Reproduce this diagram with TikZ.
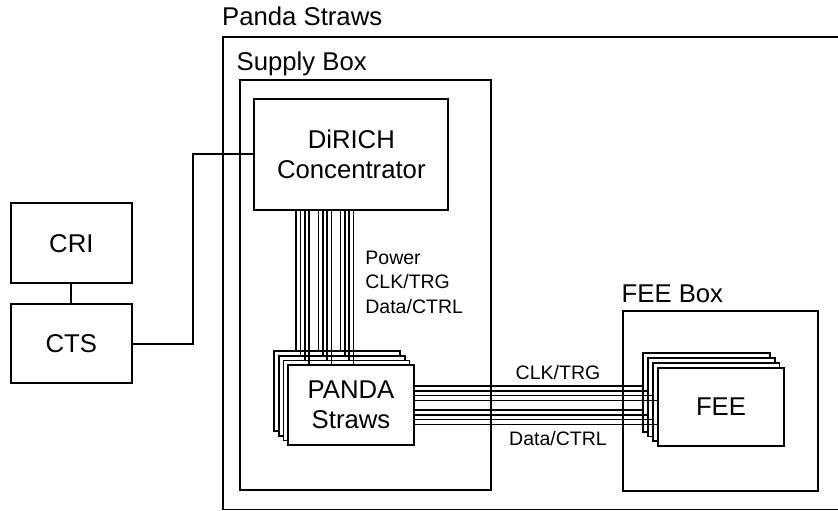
\documentclass[tikz,border=0pt]{standalone}
\usepackage{fontspec}
\setmainfont{Liberation Sans}
\newcommand\bigtxt{\fontsize{25.7}{30.5}\selectfont}
\newcommand\smalltxt{\fontsize{19.5}{23}\selectfont}
\begin{document}
\begin{tikzpicture}[x=1pt,y=-1pt,
  box/.style={draw, line width=1.8pt, fill=white, inner sep=0pt, align=center, font=\bigtxt},
  title/.style={anchor=base west, inner sep=0pt, font=\bigtxt},
  sig/.style={anchor=base west, inner sep=0pt, font=\smalltxt},
  wire/.style={line width=1.6pt},
  link/.style={line width=1.8pt}]
\useasboundingbox (0,0) rectangle (838,511);
% containers
\node[box, minimum width=627pt, minimum height=472.5pt] (outer) at (536.5,273.25) {};
\node[title] (outerlbl) at (222,26) {Panda Straws};
\node[box, minimum width=250.7pt, minimum height=410pt] (supply) at (365.35,285) {};
\node[title] (supplylbl) at (236.5,70.7) {Supply Box};
\node[box, minimum width=195pt, minimum height=180pt] (feebox) at (720.8,400.7) {};
\node[title] (feeboxlbl) at (621.5,302.3) {FEE Box};
% main boxes
\node[box, minimum width=194pt, minimum height=111.3pt] (dirich) at (351.3,154.35) {DiRICH\\Concentrator};
\node[box, minimum width=120.7pt, minimum height=80pt] (cri) at (71.35,243.3) {CRI};
\node[box, minimum width=120.7pt, minimum height=79.3pt] (cts) at (71.35,343.65) {CTS};
% stacked PANDA Straws boxes
\foreach \j in {0,1,2} {
  \node[box, minimum width=126pt, minimum height=80pt] (p\j) at ({337.2+4.6*\j},{391.2+4.6*\j}) {};
}
\node[box, minimum width=126pt, minimum height=80pt] (p3) at (351,405) {PANDA\\Straws};
% stacked FEE boxes
\foreach \j in {0,1,2} {
  \node[box, minimum width=126.6pt, minimum height=78.3pt] (f\j) at ({706.6+4.8*\j},{392.45+4.8*\j}) {};
}
\node[box, minimum width=126.6pt, minimum height=78.3pt] (f3) at ({706.6+4.8*3},{392.45+4.8*3}) {FEE};
% CRI - CTS - DiRICH
\draw[link] (cri.south) -- (cts.north);
\draw[link] (cts.east) -- ++(60.6,0) |- (dirich.west);
% vertical bundles DiRICH -> PANDA Straws
\foreach \g [count=\k] in {296,318.3,340.3} {
  \foreach \j in {0,1,2,3} {
    \coordinate (v\k\j) at ([xshift={\g+4.4*\j-351.3}]dirich.south);
    \draw[wire] (v\k\j) -- (v\k\j |- p\j.north);
  }
}
% horizontal bundles PANDA Straws -> FEE
\foreach \g [count=\k] in {386,410} {
  \foreach \j in {0,1,2,3} {
    \coordinate (h\k\j) at ([yshift={-(\g+4.8*\j-405)}]p3.east);
    \draw[wire] (h\k\j) -- (h\k\j -| f\j.west);
  }
}
% signal labels
\node[sig] (lpower) at (365.2,264) {Power};
\node[sig] (lclk) at (365.2,288.8) {CLK/TRG};
\node[sig] (ldata) at (365.2,313.3) {Data/CTRL};
\node[sig, anchor=base] (hclk) at (558,379) {CLK/TRG};
\node[sig, anchor=base] (hdata) at (558,445) {Data/CTRL};
\end{tikzpicture}
\end{document}
